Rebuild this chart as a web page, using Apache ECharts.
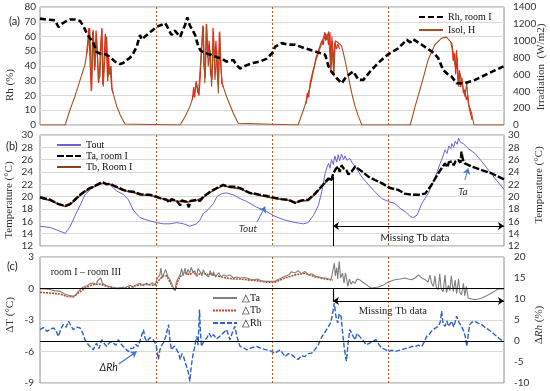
<!DOCTYPE html>
<html><head><meta charset="utf-8">
<script src="https://cdn.jsdelivr.net/npm/echarts@6/dist/echarts.min.js"></script>
<style>html,body{margin:0;padding:0;background:#fff}#c{width:550px;height:391px}</style>
</head><body><div id="c"></div>
<script>
// ---------- DATA (x = hours from start, 4 days) ----------
const dayBoundaries = [24, 48, 72];
const rhRoomI = [[0,72.1],[1.4,71.5],[3.1,71],[3.8,66.5],[4.5,68.5],[5.2,70],[6.2,71.5],[7.2,71.5],[8.3,70.5],[9.0,67],[9.7,62],[10.3,59],[11.0,56],[11.7,49.6],[12.4,48.5],[13.1,48.5],[13.8,47.5],[14.5,46],[15.5,43],[16.6,41.3],[17.2,42],[17.9,44],[18.6,45.5],[19.3,48.5],[20.0,53],[20.7,61],[21.0,58],[21.4,57.5],[22.1,61],[22.8,63],[23.4,64.5],[24.1,66.5],[25.2,68],[25.9,69],[26.6,65],[27.2,61],[27.9,64],[28.3,63],[29.0,59.7],[29.5,64],[30.0,67.6],[30.5,73],[31.0,67.6],[31.6,64],[32.1,61],[32.6,55],[33.1,51],[33.8,49],[34.5,48.5],[35.5,47.5],[36.6,46],[37.6,45],[38.6,43],[39.3,43.5],[40.0,44],[40.7,40.6],[41.4,38.3],[42.1,39.5],[42.8,40.6],[44.1,42],[45.5,43],[46.9,45],[48.3,49.6],[48.6,53],[50.0,55.5],[51.4,54.5],[52.8,54.4],[54.8,52],[56.9,49.9],[59.0,47.6],[59.7,39.7],[60.3,36.3],[61.4,31.7],[62.4,28.3],[63.4,32.9],[64.8,36.3],[65.9,30.6],[66.9,30.6],[68.3,36.3],[69.3,39.7],[70.3,43],[71.9,47.6],[73.1,50],[74.1,52],[75.9,57.8],[76.6,56],[77.2,58.2],[79.0,54.4],[81.0,49.9],[81.7,48],[82.4,45.3],[83.4,37.4],[84.5,34],[85.1,33],[86.2,28.3],[87.9,28.3],[90.0,30.6],[92.8,35],[94.1,37],[95.9,39.7]];
const isolH = [[0,0],[5.2,0],[6.2,178],[7.2,337],[8.3,535],[9.3,714],[9.8,892],[10.0,980],[10.3,1150],[10.7,420],[11.0,1130],[11.4,690],[11.7,1080],[12.1,535],[12.4,575],[12.8,1130],[13.1,455],[13.4,770],[13.8,1050],[14.1,575],[14.5,690],[14.8,455],[15.2,360],[15.9,218],[16.6,119],[17.6,12],[17.9,0],[29.0,0],[30.0,99],[31.0,218],[31.7,337],[32.1,420],[32.4,495],[32.8,380],[33.1,375],[33.4,890],[33.8,1170],[34.1,495],[34.5,1190],[34.8,695],[35.2,890],[35.5,455],[35.9,1110],[36.2,535],[36.6,890],[36.9,375],[37.2,1110],[37.6,495],[37.9,455],[38.6,337],[39.3,238],[40.0,139],[41.0,20],[41.4,0],[53.4,0],[54.5,178],[55.2,300],[55.5,377],[55.9,460],[56.2,535],[56.9,734],[57.6,853],[58.3,972],[58.6,1031],[59.0,1090],[59.3,1010],[59.7,1110],[60.1,694],[60.4,1050],[60.8,575],[61.1,1000],[61.8,972],[62.4,940],[63.1,773],[63.8,575],[64.5,377],[65.2,218],[65.9,99],[66.6,0],[76.6,0],[77.6,218],[79.0,496],[80.3,773],[81.7,952],[83.1,1031],[84.1,1043],[85.2,972],[85.5,850],[85.9,694],[86.2,890],[86.6,455],[86.9,615],[87.2,535],[87.9,337],[88.3,495],[88.6,258],[89.3,139],[89.8,0],[96,0]];
const isolMeasured = [[9.6,820],[9.9,1000],[10.1,1150],[10.4,700],[10.6,400],[10.9,1110],[11.1,900],[11.3,650],[11.6,1120],[11.9,800],[12.1,500],[12.3,620],[12.6,1000],[12.8,1150],[13.0,480],[13.2,700],[13.5,1080],[13.7,950],[14.0,520],[14.2,800],[14.4,600],[14.7,700],[14.9,420],[15.1,380],[15.2,'-'],
 [31.5,300],[31.8,450],[32.0,330],[32.3,520],[32.6,400],[32.9,350],[33.2,620],[33.5,1000],[33.7,1180],[33.9,700],[34.2,560],[34.4,1200],[34.7,800],[35.0,1000],[35.3,600],[35.6,540],[35.8,1150],[36.1,700],[36.4,1000],[36.7,600],[36.9,450],[37.1,1100],[37.4,700],[37.7,500],[37.9,450],[38.0,'-'],
 [55.0,250],[55.3,380],[55.6,330],[55.9,500],[56.2,480],[56.5,650],[56.8,700],[57.1,800],[57.4,780],[57.7,900],[58.0,880],[58.3,1000],[58.6,950],[58.9,1100],[59.1,1000],[59.4,1080],[59.7,950],[60.0,1100],[60.2,620],[60.5,1000],[60.7,700],[61.0,980],[61.3,900],[61.6,960],[62.0,900],[62.1,'-'],
 [85.0,980],[85.3,900],[85.5,760],[85.8,850],[86.0,600],[86.3,800],[86.5,500],[86.8,650],[87.0,450],[87.3,560],[87.6,380],[87.9,420],[88.2,300],[88.5,350],[88.8,200],[89.1,180],[89.4,60]];
const tOut = [[0,15.2],[2.1,15.0],[3.5,14.6],[5.2,14.05],[5.5,13.9],[6.2,15.1],[7.2,16.8],[8.3,18.6],[9.3,20.3],[10.3,21.1],[11.7,21.9],[13.1,22.2],[14.5,21.9],[15.9,20.9],[17.2,20.4],[18.3,19.5],[19.3,17.8],[20.7,16.6],[22.1,16.2],[24.1,15.8],[25.5,15.6],[26.9,15.6],[28.3,15.8],[29.7,15.6],[31.0,15.2],[32.4,15.6],[33.1,16.2],[33.8,17.3],[34.8,17.9],[35.9,18.9],[36.6,20.0],[37.6,20.5],[38.6,20.6],[40,20.3],[41.4,19.7],[42.8,19.2],[44.8,18.3],[46.9,17.6],[48.6,16.8],[50.7,16.2],[52.8,15.8],[54.5,15.6],[55.5,15.8],[56.6,17.0],[57.6,18.6],[58.3,20.8],[59.0,23.8],[59.4,24.8],[59.7,25.4],[60.0,24.6],[60.3,26.0],[60.7,25.2],[61.0,26.6],[61.4,25.6],[61.7,26.8],[62.0,25.8],[62.4,26.9],[62.8,26.0],[63.1,26.6],[63.5,25.9],[64.1,26.2],[64.6,25.5],[65.2,24.9],[66.6,23.2],[68.0,21.9],[69.3,20.8],[70.7,19.7],[72.1,19.2],[73.4,18.9],[74.5,18.1],[75.5,17.6],[76.6,16.8],[77.2,16.6],[78.0,17.0],[79.0,18.9],[80.3,20.5],[81.7,23.0],[82.8,25.4],[83.3,26.4],[83.8,27.6],[84.2,27.0],[84.6,28.2],[85.0,27.8],[85.2,28.6],[85.6,28.0],[85.9,29.0],[86.3,28.5],[86.6,29.5],[87.0,28.8],[87.6,28.6],[88.6,27.8],[90.0,27.0],[91.4,25.7],[92.8,24.3],[94.1,23.0],[96,21.2]];
const taRoomI = [[0,19.9],[1,19.7],[2.1,19.5],[3.8,18.8],[5.2,18.5],[6.2,18.8],[7.2,19.5],[8.3,20.3],[9.3,20.9],[10.3,21.4],[11.0,21.6],[11.7,21.9],[12.4,22.2],[13.1,22.3],[13.8,22.0],[14.5,22.1],[15.2,21.8],[15.9,21.6],[17.2,21.1],[18.3,20.9],[19.3,20.8],[20.7,20.4],[22.1,20.3],[22.8,20.3],[24.1,20.0],[25.0,19.7],[26.2,19.5],[26.8,19.0],[27.2,19.6],[28.3,19.3],[29.0,18.6],[29.3,19.4],[30.3,19.2],[30.8,18.3],[31.1,19.3],[32.4,19.5],[33.1,19.3],[33.8,20.0],[35.2,20.8],[36.6,21.4],[37.9,21.9],[38.6,21.7],[39.3,21.6],[40.5,21.6],[41.4,21.4],[42.4,21.0],[43.4,20.6],[44.5,20.5],[45.5,20.3],[47,20.1],[48.6,19.8],[50,19.6],[51.4,19.5],[52.8,19.0],[54.1,19.4],[55.5,19.5],[56.9,20.5],[58.3,21.7],[59.7,23.0],[60.2,22.5],[60.7,23.8],[61.2,24.5],[61.7,24.9],[62.0,24.0],[62.4,25.1],[62.8,24.6],[63.4,24.3],[63.8,23.6],[64.5,24.1],[65.2,24.9],[65.9,24.5],[66.6,24.1],[68.0,23.2],[69.3,22.7],[70.7,22.2],[72.4,21.4],[74.1,21.1],[75.5,20.5],[76.9,20.3],[78.3,20.3],[79.7,20.5],[81.0,21.9],[82.4,23.8],[83.1,24.6],[83.8,25.4],[84.3,24.8],[84.6,25.6],[85.2,25.7],[85.6,25.1],[86.0,25.8],[86.6,25.9],[87.0,25.5],[87.2,27.3],[87.5,26.0],[87.9,25.4],[89.3,24.9],[91.4,24.3],[93.4,23.8],[96,22.8]];
const tbRoomI = [[0,19.8],[1,19.6],[2.1,19.4],[3.8,18.8],[5.2,18.4],[6.2,18.7],[7.2,19.4],[8.3,20.2],[9.3,20.8],[10.3,21.3],[11.7,21.8],[13.1,22.2],[14.5,22.0],[15.9,21.5],[17.2,21.0],[19.3,20.7],[20.7,20.3],[22.8,20.2],[24.1,19.9],[26.2,19.5],[28.3,19.3],[30.3,19.1],[32.4,19.4],[33.8,19.9],[35.2,20.7],[36.6,21.3],[37.9,21.8],[39.3,21.5],[41.4,21.3],[43.4,20.6],[45.5,20.2],[48.6,19.7],[51.4,19.4],[52.8,19.0],[54.1,19.3],[55.5,19.4],[56.9,20.4],[58.3,21.6],[59.7,22.8],[60.6,23.0]];
const dTa = [[0,-0.05],[1,-0.05],[2.1,-0.1],[3,-0.2],[4.1,-0.27],[5,-0.5],[5.5,-0.6],[6.9,-0.75],[7.4,-0.6],[7.9,-0.27],[8.8,0.1],[9.7,0.27],[10.3,0.45],[11.0,0.52],[11.6,0.4],[12.0,0.8],[12.4,0.68],[12.6,1.0],[12.9,0.5],[13.8,0.27],[14.8,0.15],[15.9,0.05],[16.8,0.1],[17.9,0.14],[18.7,0.3],[19.2,0.1],[20.0,0.37],[20.8,0.5],[21.3,0.25],[22.1,0.52],[22.6,0.3],[23.2,0.55],[23.8,0.37],[24.3,1.0],[24.8,1.3],[25.0,1.95],[25.3,1.0],[25.7,1.5],[26.0,1.8],[26.2,1.48],[26.5,1.1],[26.9,0.84],[27.3,0.4],[27.6,0.05],[27.9,-0.2],[28.2,0.6],[28.6,1.0],[29.0,1.3],[29.3,1.9],[29.6,1.2],[30.0,1.95],[30.3,1.3],[30.6,1.8],[31.0,1.48],[31.3,2.0],[31.7,1.5],[32.0,1.7],[32.4,1.2],[32.7,1.9],[33.1,1.63],[33.5,1.2],[33.8,1.8],[34.1,1.4],[34.5,1.48],[34.9,1.1],[35.2,1.7],[35.6,1.2],[35.9,1.6],[36.3,1.1],[36.6,1.3],[37.0,1.5],[37.5,1.1],[38.0,1.3],[38.6,1.16],[39.3,1.3],[40,1.0],[40.7,1.1],[41.4,1.0],[42.4,1.05],[43.4,0.9],[44.1,0.84],[45,0.9],[46,0.7],[46.9,0.68],[48.6,0.68],[49.5,0.9],[50.7,1.16],[51.5,1.3],[52.0,1.6],[52.8,1.48],[53.4,1.7],[54.1,1.4],[54.8,1.63],[55.5,1.3],[56.2,1.4],[57.0,1.16],[57.8,1.1],[58.5,1.0],[59.1,1.0],[59.7,0.9],[60.2,0.84],[60.5,1.5],[60.9,2.4],[61.1,1.2],[61.4,2.0],[61.6,0.9],[61.9,2.6],[62.2,1.0],[62.6,1.48],[62.9,0.5],[63.2,1.5],[63.7,0.2],[64.0,0.9],[64.4,0.4],[64.7,0.68],[65.2,0.5],[65.6,0.9],[66.1,0.84],[66.8,0.6],[67.5,0.37],[68,0.2],[68.6,0.05],[69.3,0.1],[70.0,0.14],[71,0.3],[71.7,0.52],[72.5,0.7],[73.4,0.84],[74.5,0.9],[75.5,1.0],[76.2,0.9],[76.9,0.84],[77.6,1.0],[78.3,1.3],[79.0,1.0],[79.7,0.84],[80.3,0.6],[80.7,1.3],[81.0,0.52],[81.4,0.2],[81.7,1.2],[82.0,0.1],[82.4,-0.1],[82.7,1.4],[83.0,0.0],[83.4,-0.3],[83.8,1.3],[84.1,-0.4],[84.5,0.3],[84.8,-0.2],[85.1,1.2],[85.5,-0.3],[85.9,0.8],[86.2,-0.5],[86.6,0.9],[86.9,-0.4],[87.2,-0.6],[87.6,0.5],[87.9,-0.7],[88.2,0.2],[88.6,-0.9],[89.3,-1.0],[90.0,-1.06],[90.7,-1.0],[91.4,-0.9],[92.4,-0.7],[93.4,-0.43],[94.1,-0.25],[94.8,-0.05],[96,-0.05]];
const dTb = [[0,-0.37],[2.1,-0.43],[4.1,-0.52],[5.5,-0.75],[6.9,-0.8],[7.9,-0.43],[9.7,0.14],[11.0,0.37],[12.4,0.43],[13.8,0.2],[15.9,0.0],[17.9,0.05],[20.0,0.3],[22.1,0.4],[23.8,0.3],[24.8,0.9],[25.5,1.2],[26.2,1.2],[26.9,0.6],[27.6,0.0],[27.9,-0.2],[28.6,0.8],[29.3,1.3],[30.0,1.5],[31.0,1.3],[31.7,1.6],[32.4,1.2],[33.1,1.4],[33.8,1.5],[34.5,1.3],[35.2,1.4],[35.9,1.3],[36.6,1.2],[38.6,1.0],[40,0.9],[41.4,0.9],[43.4,0.8],[44.8,0.75],[46.9,0.6],[48.6,0.6],[50.7,1.0],[52.8,1.3],[54.8,1.45],[57.0,1.1],[59.1,0.9],[60.6,0.8]];
const dRh = [[0,2.7],[0.7,3.2],[1.4,2.3],[2.1,2.8],[2.8,3.1],[3.3,2.5],[3.8,1.1],[4.3,2.8],[4.8,3.9],[5.4,3.3],[5.9,4.7],[6.4,3.6],[6.9,2.7],[7.6,3.3],[8.3,3.1],[8.8,2.0],[9.3,0.3],[9.7,-0.3],[10.0,-0.9],[10.5,-1.5],[11.0,-2.1],[11.4,-1.2],[11.7,-0.5],[12.2,-1.8],[12.8,0.3],[13.3,-0.6],[13.8,-1.3],[14.5,-0.2],[15.2,-0.5],[15.7,-1.0],[16.2,0.3],[16.7,-0.6],[17.2,-1.3],[17.8,-2.0],[18.3,-2.5],[18.8,-1.8],[19.3,-1.7],[19.8,-0.8],[20.3,-1.3],[20.8,0.5],[21.4,2.7],[21.7,0.8],[22.1,-0.1],[22.8,0.8],[23.4,0.3],[24.0,-0.8],[24.5,-4.4],[24.8,-2.1],[25.2,-1.0],[25.5,-0.5],[26.0,1.0],[26.6,3.9],[26.9,0.0],[27.2,-2.1],[27.8,-1.2],[28.3,-2.1],[28.7,-3.0],[29.0,-4.4],[29.4,-3.0],[29.7,-3.7],[30.0,-5.0],[30.3,-6.0],[30.7,-7.5],[31.0,-9.6],[31.3,-6.0],[31.7,-2.9],[32.0,-1.5],[32.4,1.1],[32.7,-1.0],[33.0,7.5],[33.2,2.0],[33.4,-1.3],[33.9,0.0],[34.5,0.7],[35.0,1.8],[35.5,0.8],[35.9,1.5],[36.5,0.5],[37.2,1.1],[37.8,1.8],[38.6,2.7],[39.0,1.3],[39.3,0.3],[39.8,2.0],[40.3,3.5],[40.8,0.8],[41.4,-1.3],[42.1,-1.6],[42.8,-2.1],[43.8,-1.6],[44.8,-1.3],[45.8,-1.8],[46.9,-2.1],[47.8,-2.4],[48.6,-2.9],[49.7,-2.1],[50.7,-3.7],[51.4,-3.0],[52.1,-3.3],[52.8,-4.0],[53.4,-4.4],[54.1,-3.5],[54.8,-3.7],[55.5,-3.0],[56.2,-2.9],[56.9,-2.0],[57.6,-0.9],[58.1,0.5],[58.6,1.5],[59.2,2.5],[59.7,3.5],[60.2,4.5],[60.6,7.0],[60.9,9.0],[61.2,6.0],[61.6,4.3],[61.9,6.5],[62.3,5.9],[62.6,2.0],[63.0,-2.1],[63.4,-4.8],[63.7,-1.0],[64.1,2.7],[64.6,1.5],[65.2,0.3],[65.6,1.8],[66.1,1.1],[66.8,0.2],[67.5,-0.9],[68.5,-0.3],[69.5,0.3],[70.1,-0.8],[70.7,-1.7],[71.4,-2.0],[72.1,-2.5],[72.8,-2.2],[73.4,-2.5],[74.1,-2.3],[74.8,-2.1],[75.5,-1.8],[76.2,-1.7],[76.9,-1.3],[77.6,-1.3],[78.3,-1.0],[79.0,-1.3],[79.5,-0.2],[80.0,1.1],[80.5,1.6],[81.0,2.3],[81.7,3.0],[82.4,3.5],[82.8,4.5],[83.1,7.1],[83.4,4.0],[83.8,3.5],[84.2,4.8],[84.5,3.5],[85.2,4.7],[85.6,3.3],[86.2,5.9],[86.7,4.4],[87.2,3.5],[87.6,2.5],[88.0,1.0],[88.3,-1.3],[88.6,1.5],[88.9,3.9],[89.4,4.5],[90.0,4.7],[90.7,4.2],[91.4,3.9],[92.1,3.2],[92.8,2.7],[93.4,2.2],[94.1,1.5],[95.0,0.6],[95.9,-0.1]];
const missingTbStart = 60.6;
// axis ranges [min, max, interval]
const axRh = [0, 80, 10], axIrr = [0, 1400, 200], axT = [12, 30, 2], axDT = [-9, 3, 3], axDRh = [-10, 20, 5];

// ---------- CHART ----------
const SANS = 'Lato, "Liberation Sans", sans-serif';
const SERIF = '"Liberation Serif", "Times New Roman", serif';
const grids = [
  {left: 40, right: 46, top: 7, height: 118},
  {left: 40, right: 46, top: 135, height: 111},
  {left: 40, right: 46, top: 257, height: 126}
].map(g => Object.assign(g, {show: true, borderColor: '#8c8c8c', borderWidth: 1, backgroundColor: 'transparent'}));

const xAxes = [0,1,2].map(i => ({
  type: 'value', gridIndex: i, min: 0, max: 96, interval: 24,
  axisLabel: {show: false}, axisTick: {show: false}, axisLine: {show: false},
  splitLine: {show: true, showMinLine: false, showMaxLine: false, lineStyle: {color: '#c0571c', type: [2, 2], width: 1}}
}));
function yAx(grid, r, pos, margin, split) {
  return {type: 'value', gridIndex: grid, min: r[0], max: r[1], interval: r[2], position: pos,
    axisLine: {show: false}, axisTick: {show: false},
    axisLabel: {fontFamily: SANS, fontSize: 10, color: '#333', margin: margin, formatter: v => String(v)},
    splitLine: {show: split, lineStyle: {color: '#d9d9d9', width: 1}}};
}
const yAxes = [
  yAx(0, axRh, 'left', 4, true), yAx(0, axIrr, 'right', 9, false),
  yAx(1, axT, 'left', 7, true), yAx(1, axT, 'right', 4, false),
  yAx(2, axDT, 'left', 6, true), yAx(2, axDRh, 'right', 10, false)
];
const blue = '#3f78c8';
const series = [
  {name: 'Isol measured', type: 'line', xAxisIndex: 0, yAxisIndex: 1, data: isolMeasured, symbol: 'none', connectNulls: false,
   lineStyle: {color: '#ff1a1a', width: 1.2}, itemStyle: {color: '#ff1a1a'}, z: 2},
  {name: 'Isol, H', type: 'line', xAxisIndex: 0, yAxisIndex: 1, data: isolH, symbol: 'none',
   lineStyle: {color: '#a4511f', width: 1.1}, itemStyle: {color: '#a4511f'}, z: 3},
  {name: 'Rh, room I', type: 'line', xAxisIndex: 0, yAxisIndex: 0, data: rhRoomI, symbol: 'none',
   lineStyle: {color: '#000', width: 2.6, type: [6, 3]}, itemStyle: {color: '#000'}, z: 4},
  {name: 'Tout', type: 'line', xAxisIndex: 1, yAxisIndex: 2, data: tOut, symbol: 'none',
   lineStyle: {color: '#6f62d0', width: 1}, itemStyle: {color: '#6f62d0'}, z: 2,
   markLine: {silent: true, symbol: ['none', 'arrow'], symbolSize: 6, lineStyle: {color: blue, width: 1, type: 'solid'}, label: {show: false},
     data: [[{coord: [44.9, 15.9]}, {coord: [46.6, 18.4]}], [{coord: [87.9, 22.7]}, {coord: [88.6, 24.6]}]]},
   markPoint: {silent: true, symbol: 'circle', symbolSize: 0, label: {show: true, position: 'inside', color: '#333', fontFamily: SANS, fontStyle: 'italic', fontSize: 10, formatter: p => p.name},
     data: [{name: 'Tout', coord: [43.0, 14.75]}, {name: 'Ta', coord: [87.5, 20.75]}]}},
  {name: 'Tb, Room I', type: 'line', xAxisIndex: 1, yAxisIndex: 2, data: tbRoomI, symbol: 'none',
   lineStyle: {color: '#8b3f1a', width: 1.6}, itemStyle: {color: '#8b3f1a'}, z: 3},
  {name: 'Ta, room I', type: 'line', xAxisIndex: 1, yAxisIndex: 2, data: taRoomI, symbol: 'none',
   lineStyle: {color: '#000', width: 2.4, type: [7, 2]}, itemStyle: {color: '#000'}, z: 4,
   markLine: {silent: true, symbol: 'none', lineStyle: {color: '#000', width: 1, type: 'solid'}, label: {show: false},
     data: [[{coord: [missingTbStart, 23.2]}, {coord: [missingTbStart, 12]}],
            [{coord: [missingTbStart, 15.25], symbol: 'arrow', symbolSize: 6}, {coord: [96, 15.25], symbol: 'arrow', symbolSize: 6}]]},
   markPoint: {silent: true, symbol: 'circle', symbolSize: 0, label: {show: true, position: 'inside', color: '#222', fontFamily: SANS, fontSize: 10, formatter: p => p.name},
     data: [{name: 'Missing Tb data', coord: [77.6, 13.3]}]}},
  {name: '△Rh', type: 'line', xAxisIndex: 2, yAxisIndex: 5, data: dRh, symbol: 'none',
   lineStyle: {color: '#2b62c4', width: 1.4, type: [5, 2]}, itemStyle: {color: '#2b62c4'}, z: 2,
   markLine: {silent: true, symbol: 'none', lineStyle: {color: '#000', width: 1.2, type: 'solid'}, label: {show: false}, data: [{yAxis: 0}]}},
  {name: '△Tb', type: 'line', xAxisIndex: 2, yAxisIndex: 4, data: dTb, symbol: 'none',
   lineStyle: {color: '#c0461c', width: 1.6, type: [2, 1]}, itemStyle: {color: '#c0461c'}, z: 3},
  {name: '△Ta', type: 'line', xAxisIndex: 2, yAxisIndex: 4, data: dTa, symbol: 'none',
   lineStyle: {color: '#7f7f7f', width: 1.1}, itemStyle: {color: '#7f7f7f'}, z: 4,
   markLine: {silent: true, symbol: 'none', lineStyle: {color: '#000', width: 1.2, type: 'solid'}, label: {show: false},
     data: [{yAxis: 0}, [{coord: [missingTbStart, 0]}, {coord: [missingTbStart, -1.19]}],
            [{coord: [missingTbStart, -1.19], symbol: 'arrow', symbolSize: 6}, {coord: [96, -1.19], symbol: 'arrow', symbolSize: 6}],
            [{coord: [16.3, -7.2], symbol: 'none', lineStyle: {color: blue}}, {coord: [20.0, -6.0], symbol: 'arrow', symbolSize: 6, lineStyle: {color: blue}}]]},
   markPoint: {silent: true, symbol: 'circle', symbolSize: 0, label: {show: true, position: 'inside', color: '#222', fontSize: 10, formatter: p => p.name},
     data: [{name: 'Missing Tb data', coord: [73.0, -2.14], label: {fontFamily: SERIF, fontSize: 10.5}},
            {name: 'room I – room III', coord: [9.5, 1.5], label: {fontFamily: SERIF, fontSize: 10}},
            {name: 'ΔRh', coord: [14.2, -7.55], label: {fontFamily: SANS, fontStyle: 'italic', fontSize: 10.5}}]}}
];
const legBase = {orient: 'vertical', itemWidth: 24, itemStyle: {opacity: 0}, textStyle: {fontFamily: SERIF, fontSize: 10, color: '#111'}, padding: 0, itemGap: 3};
const legends = [
  Object.assign({}, legBase, {left: 418, top: 12, itemHeight: 10, itemGap: 3, data: ['Rh, room I', 'Isol, H']}),
  Object.assign({}, legBase, {left: 56, top: 140, itemHeight: 8, itemGap: 1, data: ['Tout', 'Ta, room I', 'Tb, Room I']}),
  Object.assign({}, legBase, {left: 212, top: 293, itemHeight: 9, itemGap: 2.5, data: ['△Ta', '△Tb', '△Rh']})
];
function vtext(x, y, t, rich) {
  return {type: 'text', x: x, y: y, rotation: Math.PI / 2,
    style: {text: t, fontFamily: SERIF, fontSize: 11, fill: '#333', align: 'center', verticalAlign: 'middle', rich: rich}};
}
function htext(x, y, t) {
  return {type: 'text', x: x, y: y, style: {text: t, fontFamily: SANS, fontSize: 11, fill: '#222', align: 'left', verticalAlign: 'middle'}};
}
const graphic = [
  vtext(10, 85, 'Rh (%)'), vtext(541, 67, 'Irradiation  (W/m2)'),
  vtext(9, 200, 'Temperature (°C)'), vtext(539, 185, 'Temperature (°C)'),
  vtext(10, 315, 'ΔT (°C)'), vtext(539, 325, 'Δ{i|Rh} (%)', {i: {fontFamily: SERIF, fontStyle: 'italic', fontSize: 11, fill: '#333'}}),
  htext(9, 21, '(a)'), htext(6, 146, '(b)'), htext(7, 266, '(c)')
];
const chart = echarts.init(document.getElementById('c'), null, {renderer: 'canvas'});
chart.setOption({animation: false, backgroundColor: '#fff', grid: grids, xAxis: xAxes, yAxis: yAxes, series: series, legend: legends, graphic: graphic});
</script></body></html>
